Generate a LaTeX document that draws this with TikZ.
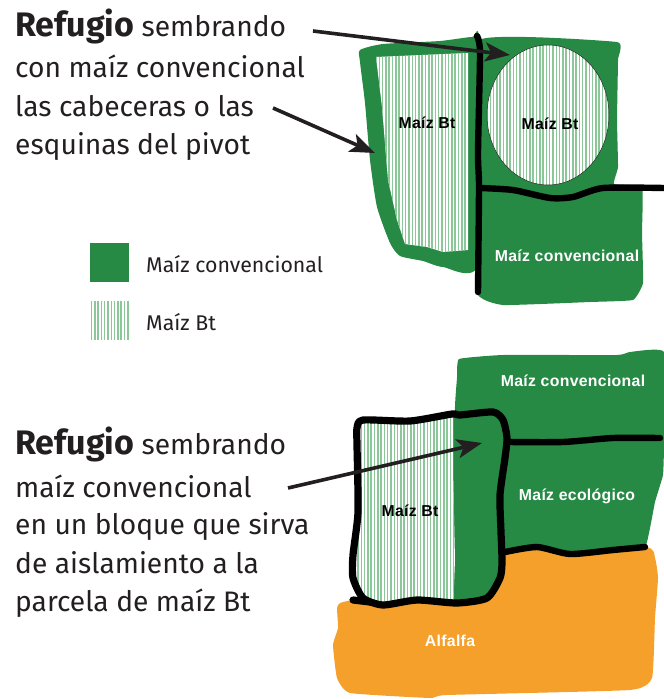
\documentclass[tikz,border=0pt]{standalone}
\usepackage{fontspec}
\setmainfont{Fira Sans}
\newfontfamily\lab{Liberation Sans}[LetterSpace=2]
\usetikzlibrary{arrows.meta}
\definecolor{gr}{HTML}{268A45}
\definecolor{hat}{HTML}{8CC79A}
\definecolor{org}{HTML}{F6A02C}
\definecolor{ink}{HTML}{231F20}
\tikzset{
  txt/.style={anchor=base west,inner sep=0pt,text=ink,font=\fontsize{28.2}{32}\selectfont},
  fieldlab/.style={inner sep=0pt,font=\lab\bfseries\fontsize{15.8}{18}\selectfont},
  legendlab/.style={anchor=base west,inner sep=0pt,text=ink,font=\fontsize{21.3}{25}\selectfont},
  fence/.style={draw=black,line width=7.2pt,line cap=round,line join=round},
  pointer/.style={draw=ink,line width=3.6pt,-{Stealth[length=25pt,width=19pt,inset=6pt]}},
  hatchline/.style={draw=hat,line width=1.5pt},
  wobble/.style={smooth cycle,tension=0.35},
}
\newcommand{\RefWord}{{\bfseries\fontsize{34}{38}\selectfont Refugio}}
\begin{document}
\begin{tikzpicture}[x=1pt,y=-1pt]
\useasboundingbox (0,0) rectangle (664,699);
% === top map ===
\fill[gr] plot[wobble] coordinates {(360,50)(383,44)(440,41)(472,37)(479,42)(479,262)(443,267)(423,261)(400,256)(390,243)(377,207)(370,160)(365,103)(360,62)};
\fill[gr] plot[smooth cycle,tension=0.2] coordinates {(480,40)(617,42)(618,60)(617,120)(618,167)(614,184)(642,187)(642,233)(643,283)(633,300)(590,302)(503,305)(477,293)(477,180)};
% left hatched strip
\fill[white] (376,57) -- (468,53) -- (468,250) -- (443,252) -- (427,247) -- (405,244) -- (397,220) -- (388,180) -- (382,107) -- cycle;
\begin{scope}
\clip (376,57) -- (468,53) -- (468,250) -- (443,252) -- (427,247) -- (405,244) -- (397,220) -- (388,180) -- (382,107) -- cycle;
\foreach \xx in {376,379.3,...,470}{\draw[hatchline] (\xx,50) -- (\xx,255);}
\end{scope}
% circle
\fill[white] (548,115) ellipse [x radius=61,y radius=70];
\begin{scope}
\clip (548,115) ellipse [x radius=61,y radius=70];
\foreach \xx in {487,490.3,...,610}{\draw[hatchline] (\xx,44) -- (\xx,186);}
\end{scope}
\draw[ink,line width=0.5pt] (548,115) ellipse [x radius=61,y radius=70];
% fences
\draw[fence,line width=6.4pt] plot[smooth,tension=0.4] coordinates {(477,36)(480,53)(478,153)(479,187)(478,292)};
\draw[fence,line width=6.4pt] plot[smooth,tension=0.4] coordinates {(480,188)(513,190)(550,198)(573,197)(603,188)(664,188)};
% === bottom map ===
\fill[org] plot[smooth cycle,tension=0.25] coordinates {(340,603)(360,598)(400,590)(490,580)(495,548)(645,547)(655,558)(658,578)(655,618)(652,678)(630,690)(447,695)(430,698)(350,693)(337,678)(333,645)(338,628)(337,608)};
\fill[gr] plot[smooth cycle,tension=0.2] coordinates {(459,359)(503,355)(617,355)(630,352)(664,352)(664,445)(663,475)(655,502)(645,548)(613,551)(570,554)(537,548)(498,552)(495,500)(465,450)(455,410)(457,378)};
\begin{scope}
\clip plot[smooth cycle,tension=0.4] coordinates {(363,420)(410,421)(452,414)(460,415)(493,412)(503,420)(507,438)(505,458)(500,495)(501,532)(502,562)(500,578)(487,598)(457,603)(417,600)(383,605)(363,598)(353,578)(353,555)(358,512)(357,445)(357,428)};
\fill[gr] (345,405) rectangle (515,610);
\fill[white] (345,405) -- (453,405) -- (453,470) -- (455,560) -- (453,610) -- (345,610) -- cycle;
\begin{scope}
\clip (345,405) -- (453,405) -- (453,470) -- (455,560) -- (453,610) -- (345,610) -- cycle;
\foreach \xx in {358,361.3,...,456}{\draw[hatchline] (\xx,410) -- (\xx,608);}
\end{scope}
\end{scope}
\draw[fence] plot[smooth cycle,tension=0.4] coordinates {(363,420)(410,421)(452,414)(460,415)(493,412)(503,420)(507,438)(505,458)(500,495)(501,532)(502,562)(500,578)(487,598)(457,603)(417,600)(383,605)(363,598)(353,578)(353,555)(358,512)(357,445)(357,428)};
\draw[fence] (353,600) -- (370,602);
\draw[fence,line width=6.4pt] plot[smooth,tension=0.4] coordinates {(508,442)(563,442)(613,438)(660,438)};
\draw[fence,line width=6.4pt] plot[smooth,tension=0.4] coordinates {(505,552)(537,547)(570,554)(613,550)(645,547)};
% labels on maps
\node[fieldlab,text=black] (bt1) at (427,123) {Maíz Bt};
\node[fieldlab,text=black] (bt2) at (550,124) {Maíz Bt};
\node[fieldlab,text=white] (conv1) at (567,256) {Maíz convencional};
\node[fieldlab,text=white] (conv2) at (573,381) {Maíz convencional};
\node[fieldlab,text=white] (eco) at (577,496) {Maíz ecológico};
\node[fieldlab,text=black] (bt3) at (410,511) {Maíz Bt};
\node[fieldlab,text=white] (alf) at (450,641) {Alfalfa};
% legend
\node[fill=gr,minimum width=39pt,minimum height=39pt,inner sep=0pt] (lg1) at (109.5,262.5) {};
\foreach \xx in {91.5,94.8,...,130}{\draw[hatchline] (\xx,301) -- (\xx,340);}
\node[legendlab] (lt1) at (146,272) {Maíz convencional};
\node[legendlab] (lt2) at (146,330) {Maíz Bt};
% texts
\node[txt] (a1) at (15,36) {\RefWord{} sembrando};
\node[txt] (a2) at (15,77) {con maíz convencional};
\node[txt] (a3) at (15,116) {las cabeceras o las};
\node[txt] (a4) at (15,154) {esquinas del pivot};
\node[txt] (b1) at (15,454) {\RefWord{} sembrando};
\node[txt] (b2) at (15,497) {maíz convencional};
\node[txt] (b3) at (15,534) {en un bloque que sirva};
\node[txt] (b4) at (15,573) {de aislamiento a la};
\node[txt] (b5) at (15,611) {parcela de maíz Bt};
% pointers
\coordinate (p1s) at (313,31); \coordinate (p1e) at (510,55);
\coordinate (p2s) at (273,108); \coordinate (p2e) at (375,153);
\coordinate (p3s) at (288,488); \coordinate (p3e) at (482,443);
\draw[pointer] (p1s) -- (p1e);
\draw[pointer] (p2s) -- (p2e);
\draw[pointer] (p3s) -- (p3e);
\end{tikzpicture}
\end{document}
